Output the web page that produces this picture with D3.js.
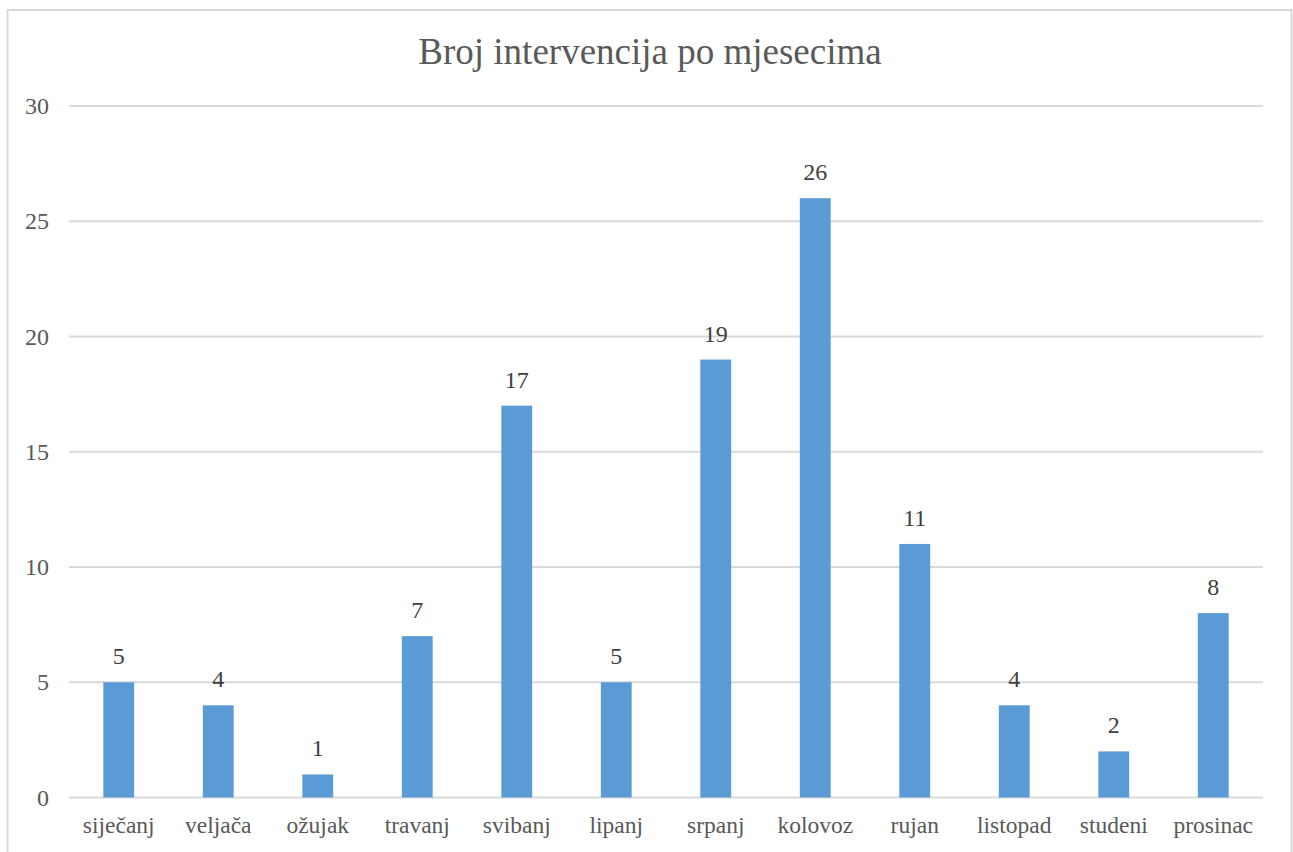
<!DOCTYPE html>
<head>
    <meta charset="utf-8">
    <script src="https://d3js.org/d3.v7.min.js"></script>
    <style>
        body { margin: 0; background: #fff; }
        text { font-family: "Liberation Serif", "Times New Roman", serif; }
    </style>
</head>
<body>
<svg width="1293" height="852"></svg>
<script>
    var months = ["siječanj", "veljača", "ožujak", "travanj", "svibanj", "lipanj",
        "srpanj", "kolovoz", "rujan", "listopad", "studeni", "prosinac"];
    var counts = [5, 4, 1, 7, 17, 5, 19, 26, 11, 4, 2, 8];
    var yTicks = [0, 5, 10, 15, 20, 25, 30];

    var svg = d3.select("svg");

    // chart frame
    svg.append("rect")
        .attr("x", 7.5).attr("y", 10)
        .attr("width", 1284).attr("height", 860)
        .attr("fill", "#fff")
        .attr("stroke", "#d9d9d9")
        .attr("stroke-width", 2);

    var x = d3.scaleBand()
        .domain(months)
        .range([69, 1263])
        .paddingInner(0.69)
        .paddingOuter(0.345);

    var y = d3.scaleLinear()
        .domain([0, 30])
        .range([797.5, 106]);

    // gridlines
    svg.append("g")
        .selectAll("line")
        .data(yTicks)
        .enter().append("line")
        .attr("x1", 69).attr("x2", 1263)
        .attr("y1", function(d) { return y(d); })
        .attr("y2", function(d) { return y(d); })
        .attr("stroke", "#d9d9d9")
        .attr("stroke-width", 2);

    // y axis labels
    var yAxis = svg.append("g")
        .attr("transform", "translate(49,0)")
        .call(d3.axisLeft(y).tickValues(yTicks).tickSize(0).tickPadding(0));
    yAxis.select(".domain").remove();
    yAxis.selectAll("text")
        .attr("font-family", "Liberation Serif")
        .attr("font-size", 24)
        .attr("fill", "#595959");

    // bars
    svg.append("g")
        .selectAll("rect")
        .data(counts)
        .enter().append("rect")
        .attr("x", function(d, i) { return x(months[i]); })
        .attr("width", x.bandwidth())
        .attr("y", function(d) { return y(d); })
        .attr("height", function(d) { return y(0) - y(d); })
        .attr("fill", "#5b9bd5");

    // value labels
    svg.append("g")
        .selectAll("text")
        .data(counts)
        .enter().append("text")
        .attr("x", function(d, i) { return x(months[i]) + x.bandwidth() / 2; })
        .attr("y", function(d) { return y(d) - 18; })
        .attr("text-anchor", "middle")
        .attr("font-size", 24)
        .attr("fill", "#404040")
        .text(function(d) { return d; });

    // x axis labels
    var xAxis = svg.append("g")
        .attr("transform", "translate(0,816)")
        .call(d3.axisBottom(x).tickSize(0).tickPadding(0));
    xAxis.select(".domain").remove();
    xAxis.selectAll("text")
        .attr("font-family", "Liberation Serif")
        .attr("font-size", 23.5)
        .attr("fill", "#595959");

    // title
    svg.append("text")
        .attr("x", 650)
        .attr("y", 64)
        .attr("text-anchor", "middle")
        .attr("font-size", 37)
        .attr("fill", "#595959")
        .text("Broj intervencija po mjesecima");
</script>
</body>
